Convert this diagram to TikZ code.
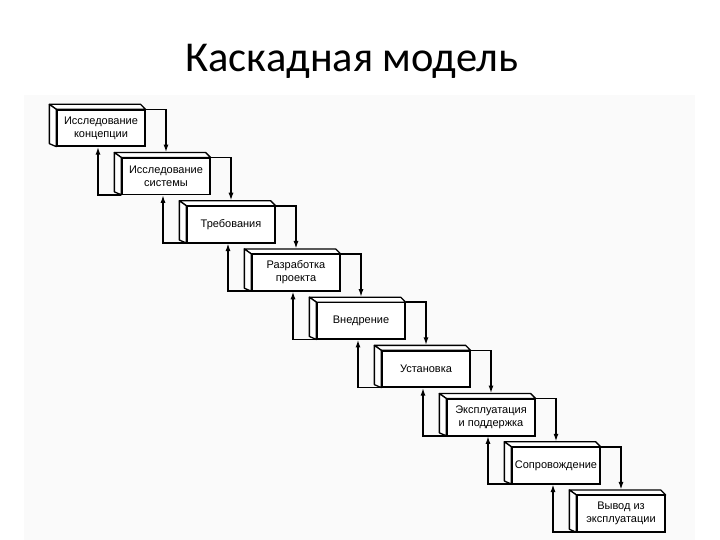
\documentclass[tikz,border=0pt]{standalone}
\usepackage{fontspec}
\setmainfont{Liberation Sans}
\newfontfamily\titlefont{Carlito}
\usetikzlibrary{arrows.meta,calc}
\begin{document}
\begin{tikzpicture}[x=1pt,y=-1pt,
  stagebox/.style={draw,line width=1.3pt,fill=white,minimum width=88pt,minimum height=36pt,
    inner sep=1pt,align=center,font=\fontsize{11}{13}\selectfont},
  face/.style={draw,line width=1.3pt,fill=white,line join=round},
  arr/.style={line width=1.6pt,-{Latex[length=8pt,width=5pt]}}]
\useasboundingbox (0,0) rectangle (720,540);
\fill[white] (0,0) rectangle (720,540);
\fill[black!2] (24,95) rectangle (695,540);
\node[font=\titlefont\fontsize{42.5}{50}\selectfont,anchor=base] (title) at (352,72) {Каскадная модель};
% boxes
\foreach \i/\txt in {0/{Исследование\\концепции},1/{Исследование\\системы},2/{Требования},
  3/{Разработка\\проекта},4/{Внедрение},5/{Установка},6/{Эксплуатация\\и поддержка},
  7/{Сопровождение},8/{Вывод из\\эксплуатации}}{
  \pgfmathsetmacro\cx{101+65*\i}
  \pgfmathsetmacro\cy{128+48.2*\i}
  \node[stagebox] (b\i) at (\cx,\cy) {\txt};
}
% down connectors
\foreach \i [evaluate=\i as \j using int(\i+1)] in {0,...,7}{
  \draw[arr] (b\i.north east) -| ([yshift=5pt]b\j.north);
}
% return connectors
\foreach \i [evaluate=\i as \j using int(\i+1)] in {0,...,7}{
  \draw[arr] (b\j.south west) -| ([xshift=-3pt]b\i.south);
}
% 3D faces drawn over the connector ends
\foreach \i in {0,...,8}{
  \filldraw[face] (b\i.north west) -- ++(-7,-5) -- ($(b\i.north east)+(-5,-5)$) -- (b\i.north east) -- cycle;
  \filldraw[face] (b\i.north west) -- ++(-7,-5) -- ($(b\i.south west)+(-7,-3)$) -- (b\i.south west) -- cycle;
  \draw[line width=1.3pt] (b\i.north west) rectangle (b\i.south east);
}
\end{tikzpicture}
\end{document}
